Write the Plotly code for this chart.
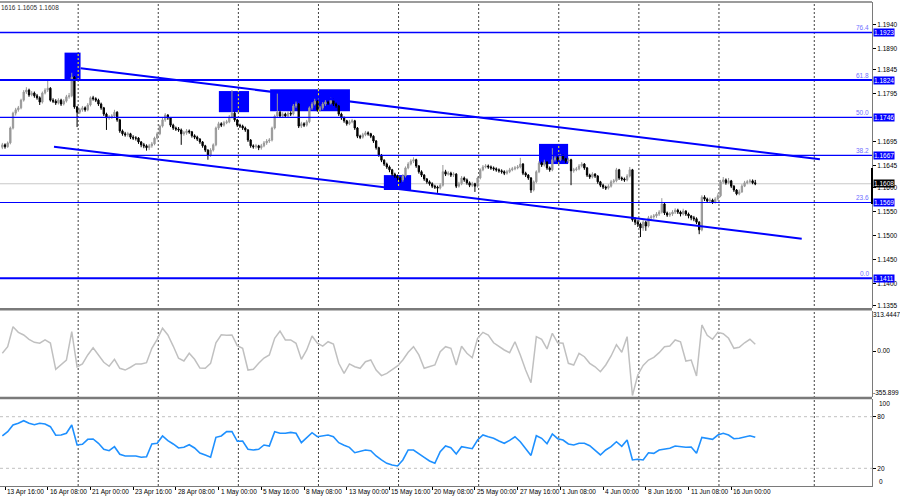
import plotly.graph_objects as go

# ---------------- data (H4 bars, bar 0 = 13 Apr 12:00) ----------------
opens = [
1.1684,1.1689,1.1685,1.1693,1.1724,1.1755,1.1762,1.1766,1.1782,1.1799,
1.1803,1.1793,1.1797,1.1791,1.1787,1.1778,1.1797,1.1803,1.1807,1.1782,
1.1780,1.1776,1.1782,1.1774,1.1780,1.1789,1.1791,1.1830,1.1768,1.1757,
1.1762,1.1766,1.1762,1.1772,1.1787,1.1785,1.1782,1.1774,1.1766,1.1753,
1.1745,1.1747,1.1749,1.1757,1.1741,1.1718,1.1712,1.1710,1.1712,1.1705,
1.1703,1.1703,1.1695,1.1689,1.1687,1.1683,1.1687,1.1691,1.1703,1.1712,
1.1728,1.1741,1.1751,1.1745,1.1730,1.1724,1.1722,1.1720,1.1712,1.1714,
1.1718,1.1716,1.1708,1.1705,1.1701,1.1695,1.1687,1.1678,1.1668,1.1678,
1.1689,1.1724,1.1733,1.1730,1.1735,1.1737,1.1747,1.1755,1.1741,1.1730,
1.1728,1.1724,1.1720,1.1699,1.1687,1.1685,1.1687,1.1683,1.1687,1.1693,
1.1697,1.1699,1.1724,1.1749,1.1757,1.1749,1.1753,1.1749,1.1755,1.1753,
1.1770,1.1774,1.1728,1.1733,1.1730,1.1737,1.1766,1.1774,1.1780,1.1762,
1.1766,1.1774,1.1778,1.1776,1.1782,1.1774,1.1770,1.1753,1.1745,1.1739,
1.1733,1.1737,1.1739,1.1724,1.1707,1.1705,1.1710,1.1714,1.1712,1.1707,
1.1697,1.1683,1.1668,1.1657,1.1649,1.1643,1.1637,1.1628,1.1624,1.1620,
1.1616,1.1624,1.1641,1.1649,1.1655,1.1658,1.1645,1.1633,1.1626,1.1618,
1.1612,1.1608,1.1603,1.1601,1.1599,1.1605,1.1633,1.1628,1.1630,1.1626,
1.1628,1.1603,1.1608,1.1620,1.1616,1.1610,1.1605,1.1608,1.1603,1.1620,
1.1637,1.1643,1.1645,1.1643,1.1641,1.1639,1.1637,1.1635,1.1633,1.1630,
1.1633,1.1637,1.1639,1.1641,1.1643,1.1649,1.1630,1.1626,1.1620,1.1595,
1.1612,1.1633,1.1651,1.1647,1.1653,1.1641,1.1637,1.1658,1.1662,1.1658,
1.1666,1.1660,1.1655,1.1658,1.1635,1.1637,1.1639,1.1645,1.1649,1.1641,
1.1626,1.1622,1.1628,1.1624,1.1612,1.1605,1.1601,1.1599,1.1603,1.1612,
1.1614,1.1637,1.1620,1.1618,1.1616,1.1624,1.1637,1.1533,1.1528,1.1524,
1.1516,1.1528,1.1520,1.1537,1.1539,1.1541,1.1545,1.1549,1.1566,1.1547,
1.1543,1.1545,1.1549,1.1553,1.1549,1.1545,1.1551,1.1545,1.1541,1.1537,
1.1535,1.1528,1.1512,1.1580,1.1576,1.1572,1.1574,1.1570,1.1576,1.1583,
1.1612,1.1616,1.1610,1.1614,1.1603,1.1595,1.1587,1.1591,1.1603,1.1610,
1.1612,1.1614,1.1610]
highs = [
1.1693,1.1692,1.1696,1.1727,1.1758,1.1766,1.1770,1.1785,1.1803,1.1809,
1.1806,1.1801,1.1800,1.1795,1.1790,1.1800,1.1807,1.1824,1.1809,1.1786,
1.1784,1.1786,1.1785,1.1784,1.1793,1.1797,1.1839,1.1832,1.1770,1.1766,
1.1770,1.1769,1.1776,1.1790,1.1791,1.1788,1.1785,1.1777,1.1768,1.1756,
1.1751,1.1753,1.1762,1.1759,1.1743,1.1721,1.1716,1.1716,1.1714,1.1709,
1.1707,1.1705,1.1697,1.1693,1.1690,1.1691,1.1695,1.1706,1.1716,1.1731,
1.1745,1.1755,1.1753,1.1747,1.1733,1.1727,1.1726,1.1723,1.1718,1.1722,
1.1721,1.1718,1.1711,1.1708,1.1703,1.1697,1.1689,1.1680,1.1682,1.1692,
1.1727,1.1737,1.1736,1.1739,1.1741,1.1751,1.1803,1.1758,1.1743,1.1733,
1.1731,1.1727,1.1722,1.1701,1.1690,1.1691,1.1689,1.1691,1.1697,1.1701,
1.1703,1.1727,1.1752,1.1797,1.1760,1.1757,1.1756,1.1759,1.1759,1.1774,
1.1779,1.1776,1.1737,1.1736,1.1741,1.1769,1.1778,1.1785,1.1782,1.1770,
1.1778,1.1782,1.1781,1.1787,1.1785,1.1777,1.1772,1.1756,1.1748,1.1741,
1.1741,1.1743,1.1741,1.1726,1.1710,1.1714,1.1718,1.1717,1.1714,1.1709,
1.1699,1.1685,1.1670,1.1659,1.1652,1.1646,1.1639,1.1631,1.1627,1.1622,
1.1628,1.1644,1.1653,1.1659,1.1663,1.1660,1.1647,1.1636,1.1628,1.1620,
1.1615,1.1611,1.1606,1.1604,1.1609,1.1647,1.1637,1.1634,1.1633,1.1632,
1.1630,1.1612,1.1624,1.1623,1.1619,1.1613,1.1612,1.1610,1.1623,1.1640,
1.1647,1.1649,1.1648,1.1646,1.1644,1.1642,1.1640,1.1638,1.1636,1.1637,
1.1641,1.1643,1.1645,1.1647,1.1662,1.1651,1.1633,1.1628,1.1622,1.1615,
1.1636,1.1655,1.1654,1.1658,1.1655,1.1644,1.1682,1.1667,1.1665,1.1670,
1.1669,1.1662,1.1662,1.1660,1.1641,1.1643,1.1649,1.1653,1.1651,1.1643,
1.1629,1.1632,1.1630,1.1626,1.1614,1.1608,1.1604,1.1607,1.1616,1.1618,
1.1641,1.1639,1.1623,1.1621,1.1628,1.1643,1.1639,1.1538,1.1532,1.1527,
1.1532,1.1531,1.1541,1.1543,1.1545,1.1549,1.1553,1.1578,1.1570,1.1550,
1.1549,1.1553,1.1557,1.1556,1.1552,1.1556,1.1553,1.1548,1.1543,1.1541,
1.1538,1.1530,1.1584,1.1584,1.1579,1.1579,1.1577,1.1580,1.1588,1.1616,
1.1622,1.1619,1.1620,1.1616,1.1605,1.1597,1.1596,1.1607,1.1614,1.1616,
1.1618,1.1617,1.1616]
lows = [
1.1680,1.1681,1.1683,1.1690,1.1721,1.1750,1.1758,1.1763,1.1779,1.1795,
1.1789,1.1790,1.1787,1.1783,1.1772,1.1775,1.1794,1.1799,1.1779,1.1776,
1.1772,1.1773,1.1770,1.1771,1.1777,1.1785,1.1788,1.1764,1.1726,1.1753,
1.1758,1.1758,1.1759,1.1769,1.1781,1.1778,1.1770,1.1762,1.1749,1.1720,
1.1741,1.1743,1.1746,1.1737,1.1714,1.1708,1.1706,1.1706,1.1701,1.1699,
1.1698,1.1691,1.1684,1.1682,1.1677,1.1678,1.1683,1.1688,1.1700,1.1709,
1.1725,1.1737,1.1741,1.1726,1.1720,1.1718,1.1716,1.1689,1.1708,1.1710,
1.1712,1.1704,1.1701,1.1697,1.1691,1.1683,1.1674,1.1658,1.1664,1.1675,
1.1686,1.1720,1.1726,1.1727,1.1732,1.1734,1.1744,1.1737,1.1726,1.1724,
1.1720,1.1716,1.1695,1.1683,1.1681,1.1681,1.1678,1.1679,1.1684,1.1689,
1.1693,1.1696,1.1721,1.1745,1.1745,1.1745,1.1745,1.1746,1.1749,1.1750,
1.1766,1.1724,1.1724,1.1726,1.1727,1.1734,1.1762,1.1771,1.1758,1.1758,
1.1762,1.1770,1.1772,1.1773,1.1770,1.1766,1.1749,1.1741,1.1735,1.1729,
1.1730,1.1734,1.1720,1.1703,1.1701,1.1702,1.1707,1.1708,1.1703,1.1693,
1.1679,1.1664,1.1653,1.1645,1.1639,1.1632,1.1624,1.1620,1.1615,1.1610,
1.1612,1.1621,1.1638,1.1646,1.1651,1.1641,1.1629,1.1622,1.1614,1.1608,
1.1604,1.1599,1.1597,1.1589,1.1596,1.1602,1.1624,1.1625,1.1622,1.1622,
1.1599,1.1600,1.1605,1.1612,1.1606,1.1601,1.1601,1.1591,1.1600,1.1617,
1.1634,1.1640,1.1639,1.1637,1.1635,1.1633,1.1631,1.1629,1.1626,1.1627,
1.1630,1.1634,1.1636,1.1638,1.1640,1.1626,1.1622,1.1616,1.1589,1.1592,
1.1609,1.1630,1.1643,1.1644,1.1637,1.1633,1.1634,1.1654,1.1654,1.1655,
1.1656,1.1651,1.1651,1.1605,1.1631,1.1634,1.1636,1.1642,1.1637,1.1622,
1.1618,1.1619,1.1620,1.1608,1.1601,1.1597,1.1595,1.1596,1.1600,1.1609,
1.1611,1.1616,1.1614,1.1612,1.1613,1.1621,1.1529,1.1522,1.1518,1.1497,
1.1510,1.1510,1.1517,1.1533,1.1535,1.1537,1.1541,1.1546,1.1543,1.1539,
1.1539,1.1541,1.1545,1.1545,1.1540,1.1542,1.1541,1.1536,1.1532,1.1530,
1.1524,1.1503,1.1509,1.1572,1.1568,1.1569,1.1566,1.1567,1.1573,1.1580,
1.1608,1.1606,1.1607,1.1599,1.1591,1.1584,1.1584,1.1589,1.1601,1.1607,
1.1609,1.1607,1.1605]
closes = [
1.1689,1.1685,1.1693,1.1724,1.1755,1.1762,1.1766,1.1782,1.1799,1.1803,
1.1793,1.1797,1.1791,1.1787,1.1778,1.1797,1.1803,1.1807,1.1782,1.1780,
1.1776,1.1782,1.1774,1.1780,1.1789,1.1791,1.1830,1.1768,1.1757,1.1762,
1.1766,1.1762,1.1772,1.1787,1.1785,1.1782,1.1774,1.1766,1.1753,1.1745,
1.1747,1.1749,1.1757,1.1741,1.1718,1.1712,1.1710,1.1712,1.1705,1.1703,
1.1703,1.1695,1.1689,1.1687,1.1683,1.1687,1.1691,1.1703,1.1712,1.1728,
1.1741,1.1751,1.1745,1.1730,1.1724,1.1722,1.1720,1.1712,1.1714,1.1718,
1.1716,1.1708,1.1705,1.1701,1.1695,1.1687,1.1678,1.1668,1.1678,1.1689,
1.1724,1.1733,1.1730,1.1735,1.1737,1.1747,1.1755,1.1741,1.1730,1.1728,
1.1724,1.1720,1.1699,1.1687,1.1685,1.1687,1.1683,1.1687,1.1693,1.1697,
1.1699,1.1724,1.1749,1.1757,1.1749,1.1753,1.1749,1.1755,1.1753,1.1770,
1.1774,1.1728,1.1733,1.1730,1.1737,1.1766,1.1774,1.1780,1.1762,1.1766,
1.1774,1.1778,1.1776,1.1782,1.1774,1.1770,1.1753,1.1745,1.1739,1.1733,
1.1737,1.1739,1.1724,1.1707,1.1705,1.1710,1.1714,1.1712,1.1707,1.1697,
1.1683,1.1668,1.1657,1.1649,1.1643,1.1637,1.1628,1.1624,1.1620,1.1616,
1.1624,1.1641,1.1649,1.1655,1.1658,1.1645,1.1633,1.1626,1.1618,1.1612,
1.1608,1.1603,1.1601,1.1599,1.1605,1.1633,1.1628,1.1630,1.1626,1.1628,
1.1603,1.1608,1.1620,1.1616,1.1610,1.1605,1.1608,1.1603,1.1620,1.1637,
1.1643,1.1645,1.1643,1.1641,1.1639,1.1637,1.1635,1.1633,1.1630,1.1633,
1.1637,1.1639,1.1641,1.1643,1.1649,1.1630,1.1626,1.1620,1.1595,1.1612,
1.1633,1.1651,1.1647,1.1653,1.1641,1.1637,1.1658,1.1662,1.1658,1.1666,
1.1660,1.1655,1.1658,1.1635,1.1637,1.1639,1.1645,1.1649,1.1641,1.1626,
1.1622,1.1628,1.1624,1.1612,1.1605,1.1601,1.1599,1.1603,1.1612,1.1614,
1.1637,1.1620,1.1618,1.1616,1.1624,1.1637,1.1533,1.1528,1.1524,1.1516,
1.1528,1.1520,1.1537,1.1539,1.1541,1.1545,1.1549,1.1566,1.1547,1.1543,
1.1545,1.1549,1.1553,1.1549,1.1545,1.1551,1.1545,1.1541,1.1537,1.1535,
1.1528,1.1512,1.1580,1.1576,1.1572,1.1574,1.1570,1.1576,1.1583,1.1612,
1.1616,1.1610,1.1614,1.1603,1.1595,1.1587,1.1591,1.1603,1.1610,1.1612,
1.1614,1.1610,1.1608]
bars = list(range(len(closes)))

# indicator values, read every second bar
cci = [
-18,34,191,147,126,92,68,61,87,63,
-144,-110,-71,152,-124,-102,-31,26,-31,-89,
-120,-65,-136,-150,-128,-102,-102,-92,21,92,
179,126,39,-57,-79,-18,-65,-134,-136,-97,
65,128,124,126,42,21,-150,-144,-97,-55,
-31,100,157,87,87,61,-65,8,118,61,
39,73,55,-97,-176,-102,-124,-136,-84,-71,
-150,-194,-176,-144,-118,-71,-10,34,-31,-136,
-124,-110,-5,34,21,-110,37,-18,-53,100,
147,126,65,34,8,-13,73,-31,-150,-250,
113,92,16,139,65,61,-97,-110,-18,-45,
-97,-124,-163,-110,-39,50,-10,113,-350,-189,
-113,-71,-50,-13,34,39,87,73,-79,-71,
-197,205,124,92,147,136,100,21,29,65,
92,53]
rsi = [
57.6,62.6,70.3,72.3,75.3,72.3,70.7,72.3,71.5,68.4,
58.4,58.7,60.7,70.3,47.1,47.9,53.7,54.1,49.1,42.1,
40.5,45.1,36.3,34.3,34.3,34.3,32.8,33.5,48.3,49.1,
57.6,52.1,48.3,43.6,44.4,47.4,43.6,37.8,35.5,33.0,
56.0,57.6,62.6,62.6,51.4,51.7,42.1,41.3,42.1,47.1,
45.9,62.6,60.7,60.7,61.8,60.7,49.8,56.0,61.4,56.7,
57.6,58.7,56.7,49.8,46.7,44.4,38.1,39.3,41.3,40.5,
34.3,29.7,25.8,23.8,22.7,29.7,41.3,41.3,37.4,32.8,
28.5,25.8,39.3,45.9,44.0,36.6,45.1,43.6,42.8,52.9,
58.7,56.7,54.9,51.7,49.1,52.5,56.7,50.9,43.3,35.0,
57.9,54.9,48.6,59.9,54.4,52.9,48.3,47.1,49.1,49.1,
46.3,40.5,35.5,41.3,45.1,50.9,45.6,52.9,29.7,30.5,
29.7,38.1,37.4,41.3,42.4,43.3,45.9,44.8,44.4,44.8,
37.4,56.0,54.9,53.7,58.7,60.7,58.7,54.4,54.9,56.7,
57.9,56.0]
ind_bars = bars[::2]

label_bars = [1, 17, 33, 49, 65, 81, 97, 113, 129, 145, 161, 177, 193, 209, 225, 241, 257, 273]
label_text = ["13 Apr 16:00", "16 Apr 08:00", "21 Apr 00:00", "23 Apr 16:00", "28 Apr 08:00",
              "1 May 00:00", "5 May 16:00", "8 May 08:00", "13 May 00:00", "15 May 16:00",
              "20 May 08:00", "25 May 00:00", "27 May 16:00", "1 Jun 08:00", "4 Jun 00:00",
              "8 Jun 16:00", "11 Jun 08:00", "16 Jun 00:00"]

fib_levels = [1.1923, 1.1824, 1.1746, 1.1667, 1.1569, 1.1411]
fib_names = ["76.4", "61.8", "50.0", "38.2", "23.6", "0.0"]
price_ticks = [1.1940, 1.1890, 1.1845, 1.1795, 1.1695, 1.1645, 1.1600, 1.1550, 1.1500, 1.1450, 1.1400, 1.1355]
last_price = 1.1608
header = "1616 1.1605 1.1608"

channel_upper = ([29.35, 306.2], [1.18484, 1.16589])
channel_lower = ([19.35, 299.4], [1.16852, 1.14936])
zones = [(23.3, 29.3, 1.1824, 1.1881), (81.1, 92.4, 1.1757, 1.1801), (100.3, 130.2, 1.1759, 1.1805),
         (142.9, 153.1, 1.1595, 1.1626), (201.0, 211.9, 1.1649, 1.1691)]
grid_bars = [28.4, 58.4, 88.4, 118.4, 148.4, 178.4, 208.4, 238.4, 268.4, 304.1]
bid_marker = (1.1641, 1.1566)

cci_top, cci_bottom = 313.4447, -355.899

assert len(opens) == len(highs) == len(lows) == len(closes)
assert len(cci) == len(rsi) == len(ind_bars)

# ---------------- figure ----------------
FONT = "Liberation Sans"
FS = 6.5
BLUE = "#0000ff"
MT, MB = 2, 14
PH = 500 - MT - MB


def py(px):
    return (500 - MB - px) / PH


main_dom = [py(308), 1.0]
cci_dom = [py(397), py(310.5)]
rsi_dom = [0.0, py(399)]

fig = go.Figure()
fig.add_trace(go.Candlestick(
    x=bars, open=opens, high=highs, low=lows, close=closes,
    increasing=dict(line=dict(color="#999999", width=1), fillcolor="#999999"),
    decreasing=dict(line=dict(color="#000000", width=1), fillcolor="#000000"),
    whiskerwidth=0, hoverinfo="skip", xaxis="x", yaxis="y"))
fig.add_trace(go.Scatter(x=ind_bars, y=cci, mode="lines", line=dict(color="#c0c0c0", width=1.5),
                         hoverinfo="skip", xaxis="x", yaxis="y2"))
fig.add_trace(go.Scatter(x=ind_bars, y=rsi, mode="lines", line=dict(color="#1e90ff", width=1.6),
                         hoverinfo="skip", xaxis="x", yaxis="y3"))

shapes = []
for x0, x1, y0, y1 in zones:
    shapes.append(dict(type="rect", xref="x", yref="y", x0=x0, x1=x1, y0=y0, y1=y1,
                       fillcolor=BLUE, line=dict(width=0), layer="below"))
for g in grid_bars:
    shapes.append(dict(type="line", xref="x", yref="paper", x0=g, x1=g, y0=0, y1=1,
                       line=dict(color="#404040", width=1, dash="2px,2px"), layer="below"))
for x0, x1, y0, y1 in zones:
    for g in grid_bars:
        if x0 <= g <= x1:
            shapes.append(dict(type="line", xref="x", yref="y", x0=g, x1=g, y0=y0, y1=y1,
                               line=dict(color="#ffff00", width=1, dash="2px,2px"), layer="below"))
shapes.append(dict(type="line", xref="paper", yref="y", x0=0, x1=1, y0=last_price, y1=last_price,
                   line=dict(color="#c8c8c8", width=1), layer="below"))
for lv in (20, 80):
    shapes.append(dict(type="line", xref="paper", yref="y3", x0=0, x1=1, y0=lv, y1=lv,
                       line=dict(color="#c0c0c0", width=1, dash="3px,3px"), layer="below"))
for lv, nm in zip(fib_levels, fib_names):
    w = 2 if nm in ("61.8", "0.0") else (1.5 if nm == "76.4" else 1.2)
    shapes.append(dict(type="line", xref="paper", yref="y", x0=0, x1=1, y0=lv, y1=lv,
                       line=dict(color=BLUE, width=w), layer="above"))
for xs, ys in (channel_upper, channel_lower):
    shapes.append(dict(type="line", xref="x", yref="y", x0=xs[0], x1=xs[1], y0=ys[0], y1=ys[1],
                       line=dict(color=BLUE, width=2), layer="above"))
for yy in (py(309.3), py(398.0)):
    shapes.append(dict(type="line", xref="paper", yref="paper", x0=0, x1=1, y0=yy, y1=yy,
                       line=dict(color="#7a7a7a", width=2.5), layer="above"))
shapes.append(dict(type="line", xref="paper", yref="paper", x0=0, x1=1, y0=1, y1=1,
                   line=dict(color="#7a7a7a", width=1.5), layer="above"))
shapes.append(dict(type="line", xref="paper", yref="y", x0=1, x1=1, y0=bid_marker[0], y1=bid_marker[1],
                   line=dict(color="black", width=2), layer="above"))

ann = []
small = dict(family=FONT, size=FS, color="black")
for lv, nm in zip(fib_levels, fib_names):
    ann.append(dict(xref="paper", yref="y", x=1, y=lv, xanchor="right", yanchor="bottom",
                    text=nm, showarrow=False, xshift=-1, yshift=-1,
                    font=dict(family=FONT, size=FS, color="#7070ff")))
    ann.append(dict(xref="paper", yref="y", x=1, y=lv, xanchor="left", yanchor="middle",
                    text=f"{lv:.4f}", showarrow=False, xshift=1, bgcolor=BLUE, borderpad=0,
                    height=7, font=dict(family=FONT, size=FS, color="white")))
ann.append(dict(xref="paper", yref="y", x=1, y=last_price, xanchor="left", yanchor="middle",
                text=f"{last_price:.4f}", showarrow=False, xshift=1, bgcolor="black", borderpad=0,
                height=7, font=dict(family=FONT, size=FS, color="white")))
ann.append(dict(xref="paper", yref="paper", x=1, y=py(314), xanchor="left", yanchor="middle",
                text=f"{cci_top:.4f}", showarrow=False, xshift=0, borderpad=0, font=small))
ann.append(dict(xref="paper", yref="paper", x=1, y=py(392.7), xanchor="left", yanchor="middle",
                text=f"{cci_bottom:.3f}", showarrow=False, xshift=0, borderpad=0, font=small))
ann.append(dict(xref="paper", yref="paper", x=1, y=py(403.3), xanchor="left", yanchor="middle",
                text="100", showarrow=False, xshift=5, font=small))
ann.append(dict(xref="paper", yref="paper", x=1, y=py(481.7), xanchor="left", yanchor="middle",
                text="0", showarrow=False, xshift=5, font=small))
for b, t in zip(label_bars, label_text):
    ann.append(dict(xref="x", yref="paper", x=b, y=0, xanchor="left", yanchor="top",
                    text=t, showarrow=False, xshift=1, yshift=-1, borderpad=0, font=small))
ann.append(dict(xref="paper", yref="paper", x=0, y=1, xanchor="left", yanchor="top",
                text=header, showarrow=False, yshift=-1, borderpad=0,
                font=dict(family=FONT, size=FS, color="#303030")))

axis_common = dict(side="right", anchor="x", showgrid=False, zeroline=False, showline=True,
                   linecolor="#7a7a7a", linewidth=1, ticks="outside", ticklen=3, tickcolor="black",
                   tickfont=small, fixedrange=True)

fig.update_layout(
    width=900, height=500,
    margin=dict(l=0, r=28, t=MT, b=MB),
    paper_bgcolor="white", plot_bgcolor="white",
    showlegend=False,
    font=dict(family=FONT, size=FS, color="black"),
    xaxis=dict(range=[-0.8727, 325.72], anchor="y3", showgrid=False, zeroline=False,
               showline=True, linecolor="#7a7a7a", tickvals=label_bars, ticks="outside",
               ticklen=3, tickcolor="black", showticklabels=False,
               rangeslider=dict(visible=False), fixedrange=True),
    yaxis=dict(domain=main_dom, range=[1.13493, 1.19864], tickvals=price_ticks,
               ticktext=[f"{v:.4f}" for v in price_ticks], **axis_common),
    yaxis2=dict(domain=cci_dom, range=[-362.2, 318.9], tickvals=[0], ticktext=["0.00"], **axis_common),
    yaxis3=dict(domain=rsi_dom, range=[-0.58, 100.58], tickvals=[20, 80], ticktext=["20", "80"], **axis_common),
    shapes=shapes,
    annotations=ann,
)

fig.write_html("out.html")
